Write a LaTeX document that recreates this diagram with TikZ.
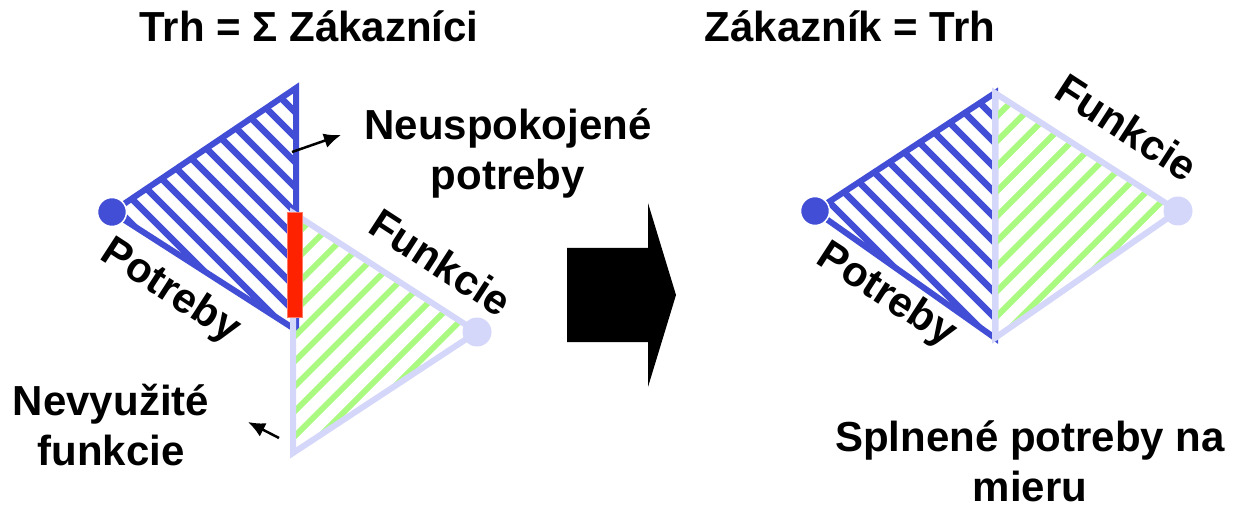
\documentclass[tikz,border=0pt]{standalone}
\usepackage{fontspec}
\setmainfont{Liberation Sans}
\usetikzlibrary{calc}
\usetikzlibrary{arrows.meta}
\definecolor{needblue}{RGB}{66,78,214}
\definecolor{funclav}{RGB}{212,214,250}
\definecolor{funcgreen}{RGB}{170,250,130}
\definecolor{gapred}{RGB}{255,34,0}
\tikzset{caption/.style={font=\fontsize{42}{50}\selectfont\bfseries, inner sep=0pt, align=center}}
\tikzset{dot/.style={circle, inner sep=0pt, minimum size=29pt}}
\tikzset{pointer/.style={-{Latex[length=17pt,width=15pt]}, line width=2.5pt}}
\tikzset{blueedge/.style={draw=needblue, line width=6pt, line join=miter}}
\tikzset{lavedge/.style={draw=funclav, line width=6pt, line join=miter}}
\tikzset{bluestripe/.style={needblue, line width=6.5pt}}
\tikzset{greenstripe/.style={funcgreen, line width=6pt}}

\begin{document}
\begin{tikzpicture}[x=1pt,y=-1pt]
  \useasboundingbox (0,0) rectangle (1235,513);

  % corners of the triangles
  \foreach \x/\y/\lab in {
    296/88/lt,
    296/330/lb,
    293/213/gt,
    293/453/gb,
    995/93/rt,
    995/338/rb,
    292/152/neuspfrom,
    341/135/neuspto,
    279/438/nevyfrom,
    248/422/nevyto%
  } {
    \coordinate (\lab) at (\x, \y);
  }
  \coordinate (lneedc) at (112,212);
  \coordinate (lfuncc) at (477,332);
  \coordinate (rneedc) at (815,211);
  \coordinate (rfuncc) at (1178,211);

  % left: needs
  \begin{scope}
    \clip (lneedc) -- (lt) -- (lb) -- cycle;
    \foreach \s in {-300,-275,...,300}{
      \draw[bluestripe] ($(lt)+(\s-250,-250)$) -- ++(500,500);
    }
  \end{scope}
  \draw[blueedge] (lneedc) -- (lt) -- (lb) -- cycle;

  % left: functions
  \begin{scope}
    \clip (gt) -- (lfuncc) -- (gb) -- cycle;
    \foreach \s in {-300,-275,...,300}{
      \draw[greenstripe] ($(gt)+(\s-250,250)$) -- ++(500,-500);
    }
  \end{scope}
  \draw[lavedge] (gt) -- (lfuncc) -- (gb) -- cycle;

  \fill[gapred, draw=gapred!60!white, line width=0.8pt] (287,212) rectangle (302,317);

  \node[dot, fill=needblue, draw=white, line width=1.5pt] (lneed) at (lneedc) {};
  \node[dot, fill=funclav] (lfunc) at (lfuncc) {};

  % right: needs = functions
  \begin{scope}
    \clip (rneedc) -- (rt) -- (rb) -- cycle;
    \foreach \s in {-300,-275,...,300}{
      \draw[bluestripe] ($(rt)+(\s-250,-250)$) -- ++(500,500);
    }
  \end{scope}
  \draw[blueedge] (rneedc) -- (rt) -- (rb) -- cycle;
  \begin{scope}
    \clip (rt) -- (rfuncc) -- (rb) -- cycle;
    \foreach \s in {-300,-275,...,300}{
      \draw[greenstripe] ($(rt)+(\s-250,250)$) -- ++(500,-500);
    }
  \end{scope}
  \draw[lavedge] (rt) -- (rfuncc) -- (rb) -- cycle;

  \node[dot, fill=needblue, draw=white, line width=1.5pt] (rneed) at (rneedc) {};
  \node[dot, fill=funclav] (rfunc) at (rfuncc) {};

  % big arrow
  \fill[black] (567,248) -- (648,248) -- (648,203) -- (676,295) -- (648,387)
    -- (648,342) -- (567,342) -- cycle;

  % texts
  \node[caption, anchor=base] (trh) at (309,42) {Trh = Σ Zákazníci};
  \node[caption, anchor=base] (zak) at (850,42) {Zákazník = Trh};
  \node[caption] (neusp) at (508,153) {Neuspokojené\\potreby};
  \node[caption] (nevy) at (111,425) {Nevyužité\\funkcie};
  \node[caption] (spln) at (1030,461) {Splnené potreby na\\mieru};
  \node[caption, rotate=-33] (lfunclab) at (441,262) {Funkcie};
  \node[caption, rotate=-33] (lneedlab) at (170,292) {Potreby};
  \node[caption, rotate=-33] (rfunclab) at (1127,127) {Funkcie};
  \node[caption, rotate=-33] (rneedlab) at (886,296) {Potreby};

  \draw[pointer] (neuspfrom) -- (neuspto);
  \draw[pointer] (nevyfrom) -- (nevyto);
\end{tikzpicture}
\end{document}
